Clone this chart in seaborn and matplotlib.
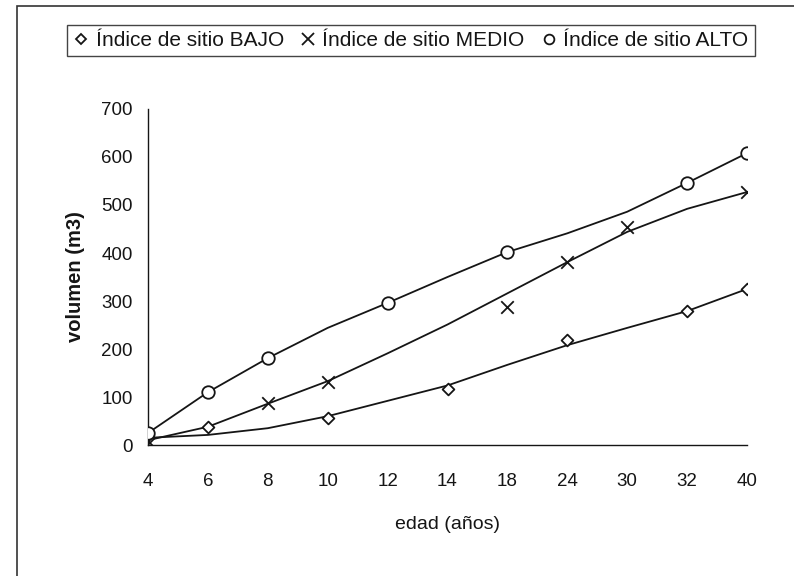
import numpy as np
import pandas as pd
import seaborn as sns
import matplotlib.pyplot as plt
from matplotlib.lines import Line2D
from matplotlib.patches import Rectangle

sns.set_theme(style="white")
plt.rcParams['font.family'] = ['Liberation Sans', 'DejaVu Sans']

# Edades de medición (eje categórico)
edad = ["4", "6", "8", "10", "12", "14", "18", "24", "30", "32", "40"]

# Volúmenes observados (m3) por índice de sitio
bajo_obs = [15, 37, np.nan, 56, np.nan, 116, np.nan, 219, np.nan, 279, 325]
medio_obs = [8, np.nan, 88, 131, np.nan, np.nan, 288, 381, 454, np.nan, 527]
alto_obs = [25, 110, 181, np.nan, 296, np.nan, 402, np.nan, np.nan, 546, 608]

# Curvas ajustadas (m3)
bajo_fit = [15, 21, 35, 60, 92, 124, 167, 208, 244, 279, 325]
medio_fit = [10, 38, 86, 133, 191, 251, 316, 381, 444, 492, 527]
alto_fit = [25, 110, 181, 244, 296, 350, 402, 441, 486, 546, 608]

series = ["Índice de sitio BAJO", "Índice de sitio MEDIO", "Índice de sitio ALTO"]
obs = [bajo_obs, medio_obs, alto_obs]
fit = [bajo_fit, medio_fit, alto_fit]

pos = np.arange(len(edad))
rows_obs, rows_fit = [], []
for name, o, f in zip(series, obs, fit):
    for p, vo, vf in zip(pos, o, f):
        rows_fit.append({"pos": p, "volumen": vf, "serie": name})
        if not np.isnan(vo):
            rows_obs.append({"pos": p, "volumen": vo, "serie": name})
df_obs = pd.DataFrame(rows_obs)
df_fit = pd.DataFrame(rows_fit)

ink = "#151515"
fig = plt.figure(figsize=(7.94, 5.76), dpi=100)
ax = fig.add_axes([148 / 794, 1 - 445 / 576, (747 - 148) / 794, (445 - 109) / 576])

sns.lineplot(data=df_fit, x="pos", y="volumen", units="serie", estimator=None,
             color=ink, linewidth=1.3, ax=ax, legend=False)

marker_style = {series[0]: "D", series[1]: "x", series[2]: "o"}
sizes = {series[0]: 6, series[1]: 9, series[2]: 9}
for name in series:
    sub = df_obs[df_obs["serie"] == name]
    m = marker_style[name]
    if m == "x":
        sns.scatterplot(data=sub, x="pos", y="volumen", marker="x", s=sizes[name] ** 2,
                        color=ink, linewidth=1.3, ax=ax, legend=False, zorder=4)
    else:
        sns.scatterplot(data=sub, x="pos", y="volumen", marker=m, s=sizes[name] ** 2,
                        facecolor="white", edgecolor=ink, linewidth=1.3, ax=ax,
                        legend=False, zorder=4)

ax.set_xlim(0, len(edad) - 1)
ax.set_ylim(0, 700)
ax.set_xticks(pos)
ax.set_xticklabels(edad)
ax.set_yticks(np.arange(0, 701, 100))
for side in ["top", "right"]:
    ax.spines[side].set_visible(False)
for side in ["left", "bottom"]:
    ax.spines[side].set_color(ink)
    ax.spines[side].set_linewidth(1.0)
ax.tick_params(axis="both", direction="inout", length=8, width=1.0, color=ink,
               labelsize=13.5, labelcolor=ink)
ax.tick_params(axis="x", pad=16)
ax.tick_params(axis="y", pad=7)
ax.set_xlabel("edad (años)", fontsize=14, color=ink, labelpad=19)
ax.set_ylabel("volumen (m3)", fontsize=14.5, color=ink, fontweight="bold", labelpad=12)

handles = [
    Line2D([], [], marker="D", linestyle="none", markersize=5, markerfacecolor="white",
           markeredgecolor=ink, markeredgewidth=1.3),
    Line2D([], [], marker="x", linestyle="none", markersize=8, color=ink,
           markeredgewidth=1.3),
    Line2D([], [], marker="o", linestyle="none", markersize=7, markerfacecolor="white",
           markeredgecolor=ink, markeredgewidth=1.3),
]
leg = fig.legend(handles, series, loc="center", bbox_to_anchor=(411 / 794, 1 - 40.5 / 576),
                 ncol=3, fontsize=15, frameon=True, fancybox=False, handlelength=0.7,
                 handletextpad=0.35, columnspacing=0.8, borderpad=0.3)
leg.get_frame().set_edgecolor(ink)
leg.get_frame().set_linewidth(1.0)
for t in leg.get_texts():
    t.set_color(ink)

# Marco exterior del gráfico
fig.patches.append(Rectangle((17 / 794, -0.1), 1.2, 1.1 - 6 / 576, transform=fig.transFigure,
                             fill=False, edgecolor="#333333", linewidth=1.2))

fig.savefig("out.png", dpi=100, facecolor="white")
